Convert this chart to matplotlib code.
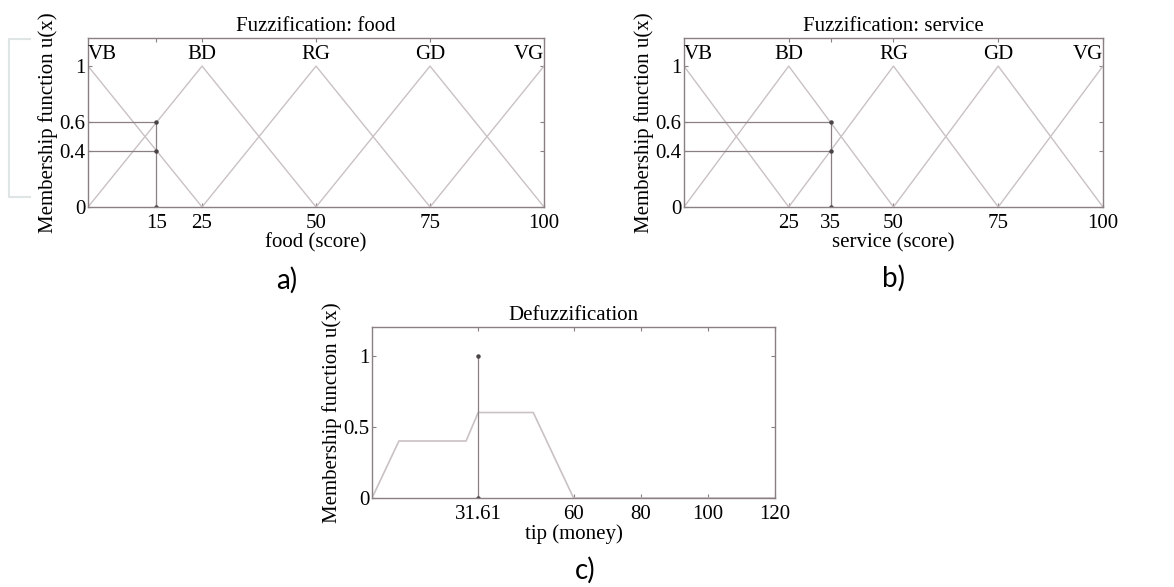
import numpy as np
import matplotlib
matplotlib.use("Agg")
import matplotlib.pyplot as plt
from matplotlib.lines import Line2D

plt.rcParams['font.family'] = ['Liberation Serif', 'DejaVu Serif']

# membership functions (triangles) shared by food and service
mf_names = ["VB", "BD", "RG", "GD", "VG"]
mf_params = [(0, 0, 25), (0, 25, 50), (25, 50, 75), (50, 75, 100), (75, 100, 100)]

food_input = 15
food_degrees = [0.6, 0.4]
food_xticks = [15, 25, 50, 75, 100]

service_input = 35
service_degrees = [0.6, 0.4]
service_xticks = [25, 35, 50, 75, 100]

fuzz_yticks = [0, 0.4, 0.6, 1]
fuzz_yticklabels = ["0", "0.4", "0.6", "1"]

# aggregated output set
tip_x = [0, 8, 28, 31.61, 48, 60, 120]
tip_y = [0, 0.4, 0.4, 0.6, 0.6, 0, 0]
tip_centroid = 31.61
tip_xticks = [31.61, 60, 80, 100, 120]
tip_xticklabels = ["31.61", "60", "80", "100", "120"]
tip_yticks = [0, 0.5, 1]
tip_yticklabels = ["0", "0.5", "1"]

LINE = "#c9c1c5"
SPINE = "#8a7f81"
MARK = "#4a4446"
FS = 15


def style_axes(ax):
    for s in ax.spines.values():
        s.set_color(SPINE)
        s.set_linewidth(1.0)
    ax.tick_params(direction="in", top=True, right=True, length=3,
                   color=SPINE, labelsize=FS)
    ax.tick_params(axis="x", pad=5)
    ax.tick_params(axis="y", pad=2)


def fuzz_panel(ax, title, xlabel, x_in, degrees, xticks):
    for a, b, c in mf_params:
        ax.plot([a, b, c], [0 if a != b else 1, 1, 0 if b != c else 1],
                color=LINE, lw=1.0)
    for d in degrees:
        ax.plot([0, x_in], [d, d], color=SPINE, lw=0.9)
    ax.plot([x_in, x_in], [0, max(degrees)], color=SPINE, lw=0.9)
    ax.plot([x_in] * (len(degrees) + 1), degrees + [0], ls="none",
            marker="o", ms=2.2, color=MARK)
    for name, (a, b, c) in zip(mf_names, mf_params):
        ha = "left" if b == 0 else ("right" if b == 100 else "center")
        ax.text(b, 1.05, name, ha=ha, va="baseline", fontsize=FS)
    ax.set_xlim(0, 100)
    ax.set_ylim(0, 1.2)
    ax.set_xticks(xticks)
    ax.set_yticks(fuzz_yticks)
    ax.set_yticklabels(fuzz_yticklabels)
    ax.set_title(title, fontsize=FS, pad=5)
    ax.set_xlabel(xlabel, fontsize=FS, labelpad=0)
    ax.set_ylabel("Membership function u(x)", fontsize=FS, labelpad=1)
    style_axes(ax)


fig = plt.figure(figsize=(11.74, 5.87), dpi=100)

ax1 = fig.add_axes([0.075, 0.6474, 0.3884, 0.288])
fuzz_panel(ax1, "Fuzzification: food", "food (score)", food_input,
           food_degrees, food_xticks)

ax2 = fig.add_axes([0.5826, 0.6474, 0.3569, 0.288])
fuzz_panel(ax2, "Fuzzification: service", "service (score)", service_input,
           service_degrees, service_xticks)

ax3 = fig.add_axes([0.3169, 0.1516, 0.3433, 0.2913])
ax3.plot(tip_x, tip_y, color=LINE, lw=1.2)
ax3.plot([tip_centroid, tip_centroid], [0, 1], color=SPINE, lw=0.9)
ax3.plot([tip_centroid, tip_centroid], [0, 1], ls="none", marker="o",
         ms=2.2, color=MARK)
ax3.set_xlim(0, 120)
ax3.set_ylim(0, 1.2)
ax3.set_xticks(tip_xticks)
ax3.set_xticklabels(tip_xticklabels)
ax3.set_yticks(tip_yticks)
ax3.set_yticklabels(tip_yticklabels)
ax3.set_title("Defuzzification", fontsize=FS, pad=5)
ax3.set_xlabel("tip (money)", fontsize=FS, labelpad=0)
ax3.set_ylabel("Membership function u(x)", fontsize=FS, labelpad=1)
style_axes(ax3)

# panel letters
for txt, x, y in [("a)", 287, 280), ("b)", 894, 278), ("c)", 585, 570)]:
    fig.text(x / 1174, 1 - y / 587, txt, ha="center", va="center",
             fontsize=20, family=["Lato", "DejaVu Sans"])

# faint bracket left over from the screenshot
fig.add_artist(Line2D([30 / 1174, 9 / 1174, 9 / 1174, 30 / 1174],
                      [1 - 39 / 587, 1 - 39 / 587, 1 - 197 / 587, 1 - 197 / 587],
                      color="#dfe5e4", lw=1.5))

fig.savefig("out.png", dpi=100, facecolor="white")
